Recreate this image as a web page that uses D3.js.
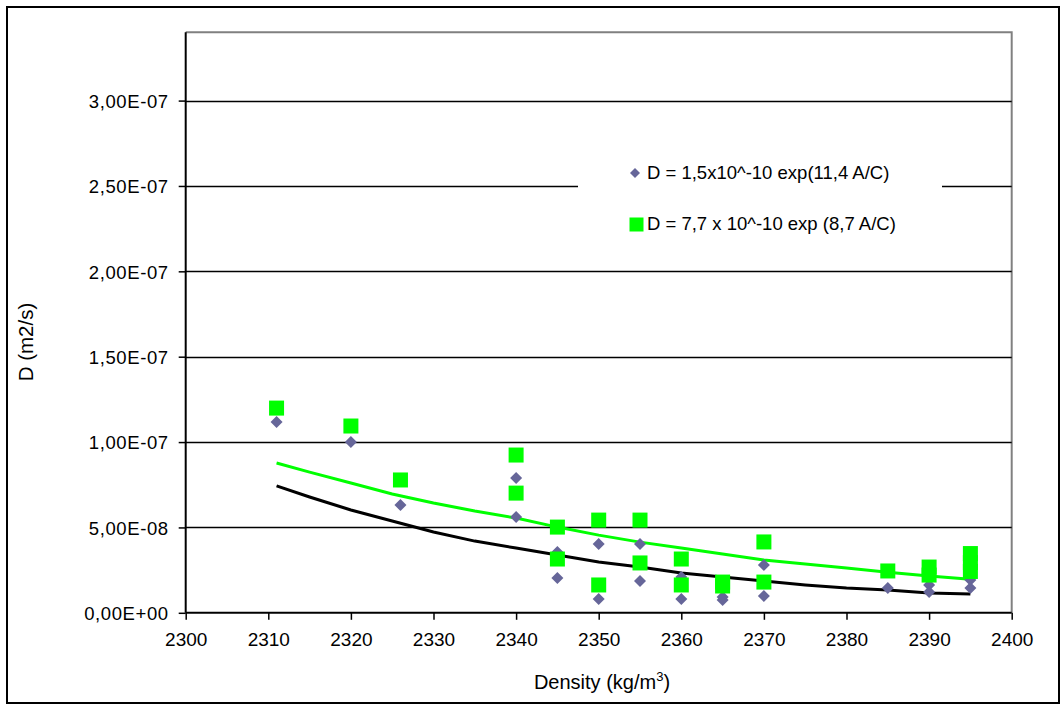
<!DOCTYPE html>
<html>
<head>
<meta charset="utf-8">
<script src="https://cdnjs.cloudflare.com/ajax/libs/d3/7.8.5/d3.min.js"></script>
<style>
  html, body { margin: 0; padding: 0; background: #fff; }
  svg text { font-family: "Liberation Sans", Arial, sans-serif; fill: #000; }
</style>
</head>
<body>
<svg id="chart" width="1062" height="704"></svg>
<script>
// Diffusion coefficient measurements (units of 1e-8 m2/s) against density
const diamondX = [2311, 2320, 2326, 2340, 2340, 2345, 2345, 2350, 2350, 2355, 2355,
                  2360, 2360, 2365, 2365, 2370, 2370, 2385, 2390, 2390, 2395, 2395];
const diamondY = [11.17, 10.0, 6.31, 7.89, 5.61, 3.56, 2.04, 4.03, 0.81, 4.03, 1.86,
                  2.10, 0.81, 0.93, 0.75, 2.80, 0.98, 1.45, 1.63, 1.22, 1.92, 1.45];

const squareX = [2311, 2320, 2326, 2340, 2340, 2345, 2345, 2350, 2350, 2355, 2355,
                 2360, 2360, 2365, 2365, 2370, 2370, 2385, 2390, 2390, 2395, 2395, 2395];
const squareY = [11.99, 10.94, 7.78, 9.24, 7.01, 5.02, 3.15, 5.43, 1.63, 5.43, 2.92,
                 3.15, 1.63, 1.80, 1.57, 4.15, 1.80, 2.45, 2.68, 2.21, 3.47, 2.94, 2.42];

// Fitted curves evaluated along the density range
const fitX = [2311, 2315, 2320, 2325, 2330, 2335, 2340, 2345, 2350, 2355,
              2360, 2365, 2370, 2375, 2380, 2385, 2390, 2395];
const fitBlackY = [7.43, 6.78, 6.02, 5.38, 4.73, 4.20, 3.79, 3.38, 2.97, 2.68,
                   2.33, 2.10, 1.86, 1.63, 1.45, 1.33, 1.16, 1.10];
const fitGreenY = [8.77, 8.24, 7.60, 6.96, 6.43, 5.96, 5.55, 5.02, 4.55, 4.14,
                   3.79, 3.44, 3.09, 2.86, 2.62, 2.38, 2.15, 1.97];

const xTicks = [2300, 2310, 2320, 2330, 2340, 2350, 2360, 2370, 2380, 2390, 2400];
const yTicks = [0, 5, 10, 15, 20, 25, 30];
const yTickLabels = ["0,00E+00", "5,00E-08", "1,00E-07", "1,50E-07", "2,00E-07", "2,50E-07", "3,00E-07"];

const legendLabels = ["D = 1,5x10^-10 exp(11,4 A/C)", "D = 7,7 x 10^-10 exp (8,7 A/C)"];

const svg = d3.select("#chart");
const pL = 185.7, pR = 1011.7, pT = 32.3, pB = 612.8;

const x = d3.scaleLinear().domain([2300, 2400]).range([pL, pR]);
const y = d3.scaleLinear().domain([0, 34]).range([pB, pT]);

// outer chart frame
svg.append("rect").attr("x", 7).attr("y", 7).attr("width", 1052).attr("height", 696)
  .attr("fill", "#fff").attr("stroke", "#000").attr("stroke-width", 2);

// plot area frame (top and right in grey)
svg.append("path")
  .attr("d", `M${pL},${pT}H${pR}V${pB}`)
  .attr("fill", "none").attr("stroke", "#808080").attr("stroke-width", 2);

// horizontal gridlines
svg.append("g").selectAll("line").data(yTicks.filter(d => d > 0)).join("line")
  .attr("x1", pL).attr("x2", pR)
  .attr("y1", d => Math.round(y(d)) + 0.5).attr("y2", d => Math.round(y(d)) + 0.5)
  .attr("stroke", "#000").attr("stroke-width", 1.3);

// y axis
const yAxis = d3.axisLeft(y).tickValues(yTicks).tickSize(7).tickPadding(10)
  .tickFormat((d, i) => yTickLabels[i]);
const gy = svg.append("g").attr("transform", `translate(${pL},0)`).call(yAxis);
gy.select(".domain").attr("stroke-width", 2).attr("d", `M0,${pT}V${pB}`);
gy.selectAll(".tick line").attr("stroke-width", 1.5);
gy.selectAll(".tick text").style("font-size", "18.5px").style("letter-spacing", "0.6px")
  .attr("font-family", null).attr("x", -17).attr("dy", "0.36em");

// x axis
const xAxis = d3.axisBottom(x).tickValues(xTicks).tickSize(7).tickPadding(13)
  .tickFormat(d3.format("d"));
const gx = svg.append("g").attr("transform", `translate(0,${pB})`).call(xAxis);
gx.select(".domain").attr("stroke-width", 2).attr("d", `M${pL},0H${pR}`);
gx.selectAll(".tick line").attr("stroke-width", 1.5);
gx.selectAll(".tick text").style("font-size", "19px").attr("font-family", null);

// axis titles
const xt = svg.append("text").attr("x", 602).attr("y", 689).attr("text-anchor", "middle")
  .style("font-size", "20px");
xt.append("tspan").text("Density (kg/m");
xt.append("tspan").attr("dy", -8).style("font-size", "13px").text("3");
xt.append("tspan").attr("dy", 8).text(")");

svg.append("text").attr("transform", "translate(33,342) rotate(-90)")
  .attr("text-anchor", "middle").style("font-size", "20.5px").text("D (m2/s)");

// fitted curves
const line = d3.line().x(d => x(d[0])).y(d => y(d[1]));
svg.append("path").datum(fitX.map((v, i) => [v, fitGreenY[i]]))
  .attr("d", line).attr("fill", "none").attr("stroke", "#00ff00").attr("stroke-width", 3);
svg.append("path").datum(fitX.map((v, i) => [v, fitBlackY[i]]))
  .attr("d", line).attr("fill", "none").attr("stroke", "#000").attr("stroke-width", 3);

// measured points
const dsz = 6;
svg.append("g").selectAll("path").data(diamondX.map((v, i) => [v, diamondY[i]])).join("path")
  .attr("d", d => `M${x(d[0])},${y(d[1]) - dsz}L${x(d[0]) + dsz},${y(d[1])}L${x(d[0])},${y(d[1]) + dsz}L${x(d[0]) - dsz},${y(d[1])}Z`)
  .attr("fill", "#666699");

const sq = 15;
svg.append("g").selectAll("rect").data(squareX.map((v, i) => [v, squareY[i]])).join("rect")
  .attr("x", d => x(d[0]) - sq / 2).attr("y", d => y(d[1]) - sq / 2)
  .attr("width", sq).attr("height", sq).attr("fill", "#00ff00");

// legend
const lg = svg.append("g");
lg.append("rect").attr("x", 578).attr("y", 145).attr("width", 364).attr("height", 100).attr("fill", "#fff");
lg.append("path").attr("d", "M635,168L640,173L635,178L630,173Z").attr("fill", "#666699");
lg.append("rect").attr("x", 629.5).attr("y", 217.5).attr("width", 14).attr("height", 14).attr("fill", "#00ff00");
lg.append("text").attr("x", 647).attr("y", 179).style("font-size", "18.5px").text(legendLabels[0]);
lg.append("text").attr("x", 647).attr("y", 230).style("font-size", "18.5px").text(legendLabels[1]);
</script>
</body>
</html>
